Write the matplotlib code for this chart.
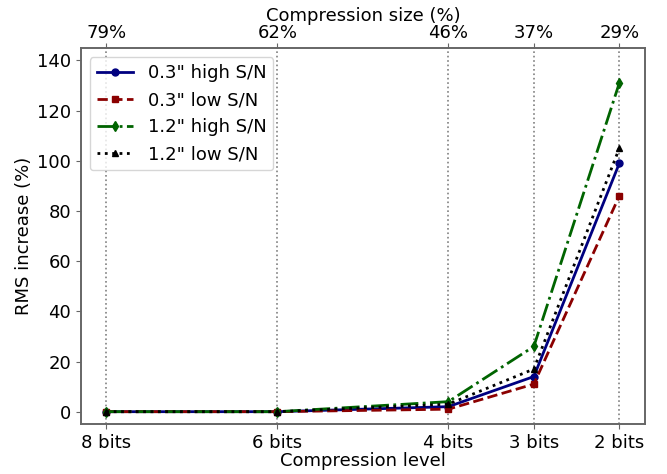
import matplotlib
matplotlib.use("Agg")
import matplotlib.pyplot as plt

bits = [8, 6, 4, 3, 2]
bit_labels = ["8 bits", "6 bits", "4 bits", "3 bits", "2 bits"]
size_labels = ["79%", "62%", "46%", "37%", "29%"]

rms_03_high = [0, 0, 2, 14, 99]
rms_03_low = [0, 0, 1, 11, 86]
rms_12_high = [0, 0, 4, 26, 131]
rms_12_low = [0, 0, 3, 17, 105]

spine_color = "#666666"

fig = plt.figure(figsize=(6.67, 4.74), dpi=100)
ax = fig.add_axes([0.121, 0.105, 0.846, 0.794])

ax.plot(bits, rms_03_high, color="navy", linestyle="-", marker="o",
        markersize=5, linewidth=2, label='0.3" high S/N')
ax.plot(bits, rms_03_low, color="darkred", linestyle="--", marker="s",
        markersize=5, linewidth=2, label='0.3" low S/N')
ax.plot(bits, rms_12_high, color="darkgreen", linestyle="-.", marker="d",
        markersize=5, linewidth=2, label='1.2" high S/N')
ax.plot(bits, rms_12_low, color="black", linestyle=":", marker="^",
        markersize=5, linewidth=2, label='1.2" low S/N')

ax.set_xlim(8.3, 1.7)
ax.set_ylim(-5, 145)
ax.set_xticks(bits)
ax.set_xticklabels(bit_labels, fontsize=13)
ax.tick_params(axis="y", labelsize=13)
ax.set_xlabel("Compression level", fontsize=13, labelpad=0)
ax.set_ylabel("RMS increase (%)", fontsize=13, labelpad=3)
ax.xaxis.grid(True, color="gray", linestyle=":", linewidth=1.2)

top = ax.twiny()
top.set_xlim(ax.get_xlim())
top.set_xticks(bits)
top.set_xticklabels(size_labels, fontsize=13)
top.tick_params(axis="x", pad=1)
top.set_xlabel("Compression size (%)", fontsize=13, labelpad=2)

for a in (ax, top):
    for s in a.spines.values():
        s.set_color(spine_color)
        s.set_linewidth(1.2)
    a.tick_params(color=spine_color)

ax.legend(loc="upper left", fontsize=13)

fig.savefig("out.png", dpi=100)
